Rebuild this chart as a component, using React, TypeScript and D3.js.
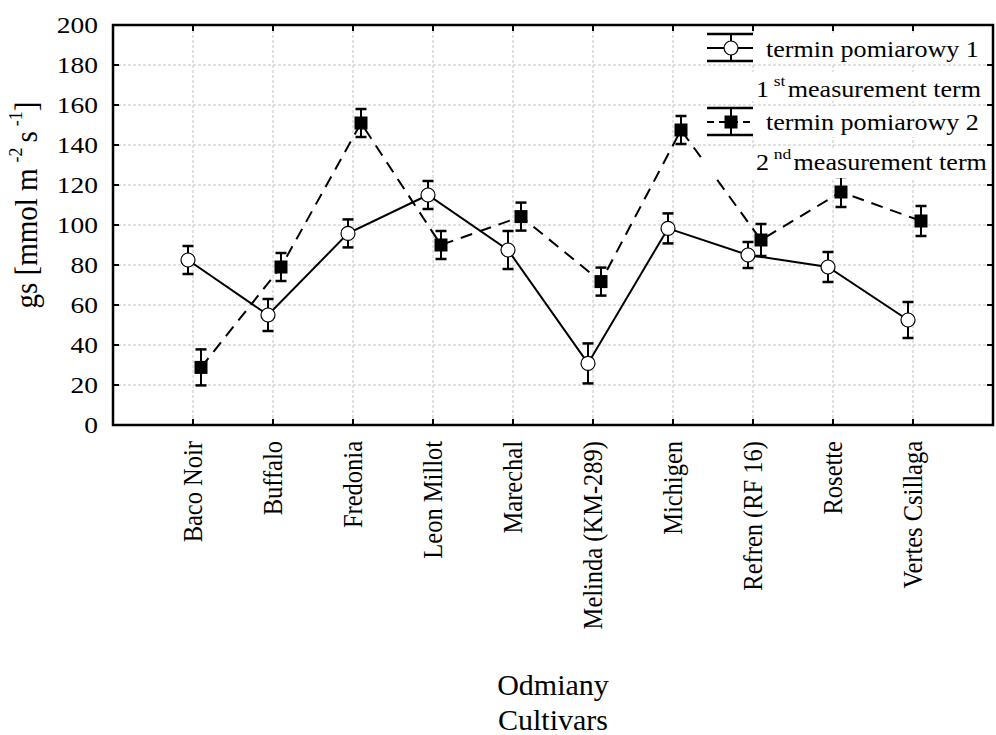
import React from 'react';
import * as d3 from 'd3';

// Stomatal conductance per cultivar, two measurement terms (mean ± error)
const cultivars = [
  'Baco Noir',
  'Buffalo',
  'Fredonia',
  'Leon Millot',
  'Marechal',
  'Melinda (KM-289)',
  'Michigen',
  'Refren (RF 16)',
  'Rosette',
  'Vertes Csillaga',
];
const term1Mean = [82.5, 55, 95.8, 115, 87.5, 30.8, 98.3, 85, 79, 52.5];
const term1Err = [7, 8, 7, 7, 9.5, 10, 7.5, 6.5, 7.5, 9];
const term2Mean = [28.8, 79, 151, 90, 104.2, 71.7, 147.5, 92.5, 116.5, 102];
const term2Err = [9, 7, 7, 7, 7, 7, 7, 8, 7.5, 7.5];
const yTicks = [0, 20, 40, 60, 80, 100, 120, 140, 160, 180, 200];

const W = 996;
const H = 735;
const L = 113;
const R = 993;
const T = 25;
const B = 425;
const FONT = "'Liberation Serif', 'Times New Roman', Times, serif";
const FS = 23.5;
const LEG_FS = 22.3;
const CAT_FS = 24.5;
const SX = 1.17;

const x = d3.scaleLinear().domain([0, cultivars.length + 1]).range([L, R]);
const y = d3.scaleLinear().domain([0, 200]).range([B, T]);

const OFF1 = -5;
const OFF2 = 8;

type P = [number, number];

function pts(vals: number[], off: number): P[] {
  return vals.map((v, i) => [x(i + 1) + off, y(v)] as P);
}

const lineGen = d3.line<P>().x((d) => d[0]).y((d) => d[1]);

function ErrorBars({ vals, errs, off }: { vals: number[]; errs: number[]; off: number }) {
  return (
    <g stroke="#000" fill="none">
      {vals.map((v, i) => {
        const cx = x(i + 1) + off;
        const y0 = y(v - errs[i]);
        const y1 = y(v + errs[i]);
        return (
          <g key={i}>
            <line x1={cx} x2={cx} y1={y0} y2={y1} strokeWidth={2} />
            <line x1={cx - 5.5} x2={cx + 5.5} y1={y0} y2={y0} strokeWidth={2.5} />
            <line x1={cx - 5.5} x2={cx + 5.5} y1={y1} y2={y1} strokeWidth={2.5} />
          </g>
        );
      })}
    </g>
  );
}

function SText({
  tx,
  ty,
  anchor = 'start',
  size = FS,
  rotate = 0,
  sx = SX,
  dy,
  children,
}: {
  tx: number;
  ty: number;
  anchor?: string;
  size?: number;
  rotate?: number;
  sx?: number;
  dy?: string;
  children: React.ReactNode;
}) {
  return (
    <g transform={`translate(${tx},${ty}) scale(${sx},1) rotate(${rotate})`}>
      <text
        textAnchor={anchor}
        fill="#000"
        dy={dy}
        style={{ fontFamily: FONT, fontSize: `${size}px` }}
      >
        {children}
      </text>
    </g>
  );
}

export default function App() {
  const p1 = pts(term1Mean, OFF1);
  const p2 = pts(term2Mean, OFF2);
  const catX = cultivars.map((_, i) => x(i + 1));

  return (
    <svg
      width={W}
      height={H}
      viewBox={`0 0 ${W} ${H}`}
      style={{ position: 'absolute', left: 0, top: 0, background: '#fff' }}
    >
      <rect x={0} y={0} width={W} height={H} fill="#fff" />

      {/* grid */}
      <g stroke="#c4c4c4" strokeWidth={1} strokeDasharray="3,2">
        {yTicks.slice(1, -1).map((t) => (
          <line key={t} x1={L} x2={R} y1={y(t)} y2={y(t)} />
        ))}
        {catX.map((cx, i) => (
          <line key={i} x1={cx} x2={cx} y1={T} y2={B} />
        ))}
      </g>

      {/* series lines */}
      <path d={lineGen(p1) || ''} fill="none" stroke="#000" strokeWidth={2} />
      <path d={lineGen(p2) || ''} fill="none" stroke="#000" strokeWidth={2} strokeDasharray="12,8" />

      <ErrorBars vals={term1Mean} errs={term1Err} off={OFF1} />
      <ErrorBars vals={term2Mean} errs={term2Err} off={OFF2} />

      {p1.map((p, i) => (
        <circle key={i} cx={p[0]} cy={p[1]} r={7} fill="#fff" stroke="#000" strokeWidth={1.2} />
      ))}
      {p2.map((p, i) => (
        <rect key={i} x={p[0] - 6.5} y={p[1] - 6.5} width={13} height={13} fill="#000" />
      ))}

      {/* legend */}
      <g>
        {[
          [33, 63],
          [72, 101],
          [106, 137],
          [148, 178],
        ].map(([a, b], i) => (
          <rect key={i} x={704} y={a} width={W - 704} height={b - a} fill="#fff" />
        ))}
        <g stroke="#000" fill="none">
          <line x1={707} x2={753} y1={34} y2={34} strokeWidth={2.5} />
          <line x1={707} x2={753} y1={61} y2={61} strokeWidth={2.5} />
          <line x1={707} x2={753} y1={48} y2={48} strokeWidth={2} />
          <line x1={731} x2={731} y1={34} y2={61} strokeWidth={2} />
          <line x1={707} x2={753} y1={108} y2={108} strokeWidth={2.5} />
          <line x1={707} x2={753} y1={135} y2={135} strokeWidth={2.5} />
          <line x1={707} x2={753} y1={122} y2={122} strokeWidth={2} strokeDasharray="7,5" />
          <line x1={731} x2={731} y1={108} y2={135} strokeWidth={2} />
        </g>
        <circle cx={731} cy={48} r={7} fill="#fff" stroke="#000" strokeWidth={1.2} />
        <rect x={724.5} y={115.5} width={13} height={13} fill="#000" />

        <SText tx={766} ty={57} size={LEG_FS}>termin pomiarowy 1</SText>
        <SText tx={756} ty={97} size={LEG_FS}>
          1
          <tspan style={{ fontSize: '15px' }} dy={-11} dx={4}>st</tspan>
          <tspan dy={11} dx={2}>measurement term</tspan>
        </SText>
        <SText tx={766} ty={130} size={LEG_FS}>termin pomiarowy 2</SText>
        <SText tx={756} ty={170} size={LEG_FS}>
          2
          <tspan style={{ fontSize: '15px' }} dy={-11} dx={4}>nd</tspan>
          <tspan dy={11} dx={2}>measurement term</tspan>
        </SText>
      </g>

      {/* ticks (inward on every side) */}
      <g stroke="#000" strokeWidth={2}>
        {yTicks.map((t) => (
          <g key={t}>
            <line x1={L} x2={L + 6} y1={y(t)} y2={y(t)} />
            <line x1={R} x2={R - 6} y1={y(t)} y2={y(t)} />
          </g>
        ))}
        {catX.map((cx, i) => (
          <g key={i}>
            <line x1={cx} x2={cx} y1={B} y2={B - 6} />
            <line x1={cx} x2={cx} y1={T} y2={T + 6} />
          </g>
        ))}
      </g>

      {/* frame */}
      <rect x={L} y={T} width={R - L} height={B - T} fill="none" stroke="#000" strokeWidth={2.5} />

      {/* y tick labels */}
      {yTicks.map((t) => (
        <SText key={t} tx={98} ty={y(t)} anchor="end" dy="0.35em">
          {t}
        </SText>
      ))}

      {/* category labels */}
      {cultivars.map((c, i) => (
        <SText key={c} tx={catX[i]} ty={441} anchor="end" rotate={-90} size={CAT_FS} sx={1.12} dy="0.34em">
          {c}
        </SText>
      ))}

      {/* y axis title */}
      <SText tx={37} ty={205} anchor="middle" rotate={-90} size={29} sx={1.08}>
        gs [mmol m
        <tspan style={{ fontSize: '18px' }} dy={-14} dx={6}>-2</tspan>
        <tspan dy={14} dx={5}>s</tspan>
        <tspan style={{ fontSize: '18px' }} dy={-14} dx={5}>-1</tspan>
        <tspan dy={14}>]</tspan>
      </SText>

      {/* x axis title */}
      <SText tx={553} ty={695} anchor="middle" size={30} sx={1}>Odmiany</SText>
      <SText tx={553} ty={730} anchor="middle" size={30} sx={1}>Cultivars</SText>
    </svg>
  );
}
